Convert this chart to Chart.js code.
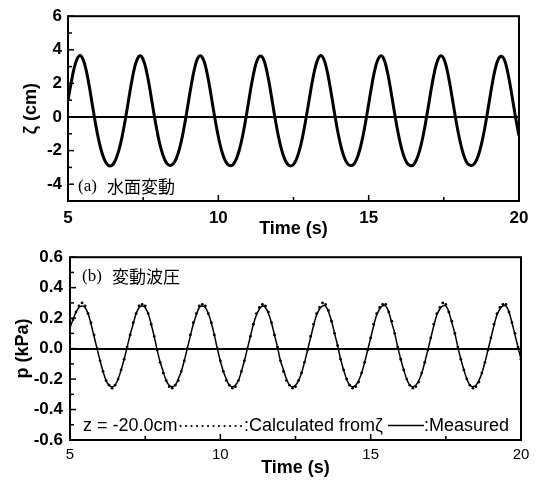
<!DOCTYPE html>
<html>
<head>
<meta charset="utf-8">
<script src="https://cdn.jsdelivr.net/npm/chart.js@4.4.1/dist/chart.umd.min.js"></script>
<style>
    body { margin: 0; background: #fff; }
    #wrap { position: relative; width: 540px; height: 481px; }
    #zetaCanvas { position: absolute; left: 0; top: 0; }
    #pCanvas { position: absolute; left: 0; top: 240px; }
</style>
</head>
<body>
<div id="wrap">
    <canvas id="zetaCanvas" width="540" height="240"></canvas>
    <canvas id="pCanvas" width="540" height="241"></canvas>
</div>
<script>
// 时间 (s)
const time = [
    5.0, 5.1, 5.2, 5.3, 5.4, 5.5, 5.6, 5.7, 5.8, 5.9,
    6.0, 6.1, 6.2, 6.3, 6.4, 6.5, 6.6, 6.7, 6.8, 6.9,
    7.0, 7.1, 7.2, 7.3, 7.4, 7.5, 7.6, 7.7, 7.8, 7.9,
    8.0, 8.1, 8.2, 8.3, 8.4, 8.5, 8.6, 8.7, 8.8, 8.9,
    9.0, 9.1, 9.2, 9.3, 9.4, 9.5, 9.6, 9.7, 9.8, 9.9,
    10.0, 10.1, 10.2, 10.3, 10.4, 10.5, 10.6, 10.7, 10.8, 10.9,
    11.0, 11.1, 11.2, 11.3, 11.4, 11.5, 11.6, 11.7, 11.8, 11.9,
    12.0, 12.1, 12.2, 12.3, 12.4, 12.5, 12.6, 12.7, 12.8, 12.9,
    13.0, 13.1, 13.2, 13.3, 13.4, 13.5, 13.6, 13.7, 13.8, 13.9,
    14.0, 14.1, 14.2, 14.3, 14.4, 14.5, 14.6, 14.7, 14.8, 14.9,
    15.0, 15.1, 15.2, 15.3, 15.4, 15.5, 15.6, 15.7, 15.8, 15.9,
    16.0, 16.1, 16.2, 16.3, 16.4, 16.5, 16.6, 16.7, 16.8, 16.9,
    17.0, 17.1, 17.2, 17.3, 17.4, 17.5, 17.6, 17.7, 17.8, 17.9,
    18.0, 18.1, 18.2, 18.3, 18.4, 18.5, 18.6, 18.7, 18.8, 18.9,
    19.0, 19.1, 19.2, 19.3, 19.4, 19.5, 19.6, 19.7, 19.8, 19.9,
    20.0
];

// (a) 水面変動 ζ (cm)
const zeta = [
    1.00, 1.98, 2.88, 3.44,
    3.66, 3.43, 2.82, 1.90, 0.84, -0.24, -1.19, -1.95, -2.49, -2.81, -2.92, -2.81, -2.47, -1.93, -1.17, -0.22, 0.85, 1.92, 2.83, 3.43,
    3.64, 3.42, 2.81, 1.91, 0.83, -0.23, -1.18, -1.93, -2.47, -2.79, -2.88, -2.79, -2.48, -1.94, -1.18, -0.23, 0.84, 1.91, 2.82, 3.44,
    3.65, 3.43, 2.82, 1.91, 0.84, -0.22, -1.17, -1.94, -2.48, -2.80, -2.90, -2.81, -2.49, -1.95, -1.19, -0.24, 0.83, 1.90, 2.81, 3.42,
    3.63, 3.44, 2.84, 1.93, 0.86, -0.21, -1.17, -1.93, -2.48, -2.80, -2.91, -2.82, -2.50, -1.96, -1.20, -0.25, 0.80, 1.86, 2.78, 3.40,
    3.66, 3.47, 2.88, 1.98, 0.92, -0.15, -1.12, -1.90, -2.46, -2.79, -2.89, -2.82, -2.51, -1.98, -1.23, -0.28, 0.78, 1.85, 2.77, 3.39,
    3.64, 3.47, 2.87, 1.97, 0.90, -0.17, -1.13, -1.91, -2.47, -2.80, -2.90, -2.82, -2.50, -1.97, -1.22, -0.27, 0.79, 1.86, 2.78, 3.40,
    3.65, 3.46, 2.87, 1.97, 0.91, -0.16, -1.12, -1.90, -2.47, -2.80, -2.88, -2.81, -2.51, -1.98, -1.22, -0.27, 0.80, 1.87, 2.79, 3.40,
    3.62, 3.46, 2.87, 1.96, 0.90, -0.17, -1.13
];

// (b) 変動波圧 p (kPa), Measured
const pMeasured = [
    0.14, 0.19, 0.24, 0.27,
    0.28, 0.27, 0.23, 0.16, 0.08, 0.00, -0.08, -0.15, -0.21, -0.24, -0.25, -0.24, -0.20, -0.14, -0.07, 0.01, 0.09, 0.16, 0.23, 0.27,
    0.28, 0.27, 0.23, 0.16, 0.08, -0.01, -0.09, -0.15, -0.21, -0.24, -0.25, -0.24, -0.20, -0.15, -0.08, 0.00, 0.08, 0.16, 0.22, 0.27,
    0.28, 0.27, 0.23, 0.17, 0.09, 0.00, -0.08, -0.15, -0.20, -0.24, -0.25, -0.24, -0.21, -0.15, -0.08, 0.00, 0.08, 0.16, 0.22, 0.26,
    0.28, 0.27, 0.23, 0.17, 0.09, 0.01, -0.08, -0.14, -0.20, -0.24, -0.25, -0.24, -0.21, -0.16, -0.09, -0.01, 0.07, 0.15, 0.22, 0.26,
    0.28, 0.28, 0.24, 0.18, 0.10, 0.02, -0.07, -0.14, -0.20, -0.24, -0.25, -0.24, -0.21, -0.16, -0.09, -0.01, 0.07, 0.15, 0.22, 0.26,
    0.28, 0.28, 0.24, 0.17, 0.10, 0.01, -0.07, -0.14, -0.20, -0.24, -0.25, -0.24, -0.21, -0.16, -0.09, -0.01, 0.07, 0.15, 0.22, 0.26,
    0.28, 0.28, 0.24, 0.17, 0.10, 0.01, -0.07, -0.14, -0.20, -0.24, -0.25, -0.24, -0.21, -0.16, -0.09, -0.01, 0.07, 0.15, 0.22, 0.26,
    0.28, 0.28, 0.24, 0.17, 0.09, 0.01, -0.07
];

// Calculated from ζ
const pCalculated = [
    0.15, 0.19, 0.24, 0.28,
    0.30, 0.28, 0.23, 0.17, 0.09, 0.00, -0.08, -0.15, -0.21, -0.24, -0.26, -0.24, -0.20, -0.14, -0.07, 0.01, 0.09, 0.17, 0.23, 0.28,
    0.29, 0.28, 0.23, 0.16, 0.08, -0.01, -0.09, -0.16, -0.21, -0.25, -0.26, -0.24, -0.21, -0.15, -0.08, 0.00, 0.09, 0.17, 0.23, 0.28,
    0.29, 0.28, 0.23, 0.17, 0.09, 0.00, -0.08, -0.15, -0.21, -0.24, -0.26, -0.25, -0.21, -0.15, -0.08, 0.00, 0.08, 0.16, 0.23, 0.27,
    0.29, 0.28, 0.24, 0.17, 0.09, 0.01, -0.08, -0.15, -0.21, -0.24, -0.26, -0.25, -0.21, -0.16, -0.09, -0.01, 0.08, 0.16, 0.23, 0.27,
    0.30, 0.29, 0.25, 0.18, 0.10, 0.02, -0.07, -0.14, -0.20, -0.24, -0.26, -0.25, -0.22, -0.16, -0.09, -0.01, 0.07, 0.16, 0.23, 0.27,
    0.29, 0.29, 0.24, 0.18, 0.10, 0.01, -0.07, -0.14, -0.20, -0.24, -0.26, -0.25, -0.22, -0.16, -0.09, -0.01, 0.07, 0.16, 0.23, 0.27,
    0.30, 0.29, 0.24, 0.18, 0.10, 0.01, -0.07, -0.14, -0.20, -0.24, -0.26, -0.25, -0.22, -0.16, -0.09, -0.01, 0.07, 0.16, 0.23, 0.27,
    0.29, 0.29, 0.24, 0.17, 0.10, 0.01, -0.07
];

const charts = {};
const SANS = '"Liberation Sans", Arial, sans-serif';
Chart.defaults.font.family = SANS;
Chart.defaults.color = '#000';
Chart.defaults.animation = false;

function toXY(ys) {
    return ys.map((v, i) => ({ x: time[i], y: v }));
}

// 内向刻度 + 外框
const frameTicks = {
    id: 'frameTicks',
    afterDatasetsDraw(chart) {
        const { ctx, chartArea: a, scales } = chart;
        ctx.save();
        ctx.strokeStyle = '#000';
        ctx.lineWidth = 1.5;
        scales.x.ticks.forEach(t => {
            const px = scales.x.getPixelForValue(t.value);
            const len = t.label !== '' ? 6 : 4;
            ctx.beginPath();
            ctx.moveTo(px, a.bottom);
            ctx.lineTo(px, a.bottom - len);
            ctx.stroke();
        });
        scales.y.ticks.forEach(t => {
            const py = scales.y.getPixelForValue(t.value);
            const len = t.label !== '' ? 6 : 4;
            ctx.beginPath();
            ctx.moveTo(a.left, py);
            ctx.lineTo(a.left + len, py);
            ctx.stroke();
        });
        ctx.lineWidth = 2;
        ctx.strokeRect(a.left, a.top, a.right - a.left, a.bottom - a.top);
        ctx.restore();
    }
};

const zeroGrid = {
    drawTicks: false,
    lineWidth: 2,
    color: c => (c.tick && Math.abs(c.tick.value) < 1e-9) ? '#000' : 'rgba(0,0,0,0)'
};

function updateZetaChart() {
    const ctx = document.getElementById('zetaCanvas').getContext('2d');

    const notes = {
        id: 'zetaNotes',
        afterDraw(chart) {
            const c = chart.ctx, a = chart.chartArea;
            c.save();
            c.fillStyle = '#000';
            c.textBaseline = 'middle';
            c.font = '17px "Liberation Serif", serif';
            c.fillText('(a)', a.left + 10, a.bottom - 14);
            c.font = '17px "Noto Sans CJK JP", sans-serif';
            c.fillText('水面変動', a.left + 39, a.bottom - 14);
            c.restore();
        }
    };

    charts.zetaChart = new Chart(ctx, {
        type: 'line',
        data: {
            datasets: [{
                label: 'ζ',
                data: toXY(zeta),
                borderColor: '#000',
                borderWidth: 3,
                pointRadius: 0,
                tension: 0.4
            }]
        },
        options: {
            responsive: false,
            devicePixelRatio: 1,
            layout: { padding: { left: 0, top: 15, right: 21, bottom: 0 } },
            plugins: { legend: { display: false }, tooltip: { enabled: false } },
            scales: {
                x: {
                    type: 'linear',
                    min: 5, max: 20,
                    grid: { display: false, drawTicks: false },
                    border: { display: false },
                    ticks: {
                        stepSize: 2.5,
                        autoSkip: false,
                        maxRotation: 0,
                        padding: 7,
                        font: { size: 17, weight: 'bold' },
                        callback: v => (v % 5 === 0 ? String(v) : '')
                    },
                    title: {
                        display: true,
                        text: 'Time (s)',
                        font: { size: 18, weight: 'bold' },
                        padding: { top: 0, bottom: 0 }
                    },
                    afterFit: s => { s.height = 39; }
                },
                y: {
                    min: -5, max: 6,
                    grid: zeroGrid,
                    border: { display: false },
                    ticks: {
                        stepSize: 1,
                        autoSkip: false,
                        padding: 6,
                        font: { size: 17, weight: 'bold' },
                        callback: v => (v % 2 === 0 ? String(v) : '')
                    },
                    title: {
                        display: true,
                        text: 'ζ (cm)',
                        font: { size: 18, weight: 'bold' },
                        padding: { top: 20, bottom: 0 }
                    },
                    afterFit: s => { s.width = 68; }
                }
            }
        },
        plugins: [frameTicks, notes]
    });
}

function updatePressureChart() {
    const ctx = document.getElementById('pCanvas').getContext('2d');

    const notes = {
        id: 'pNotes',
        afterDraw(chart) {
            const c = chart.ctx, a = chart.chartArea;
            c.save();
            c.fillStyle = '#000';
            c.strokeStyle = '#000';
            c.textBaseline = 'middle';
            c.font = '17px "Liberation Serif", serif';
            c.fillText('(b)', a.left + 12, a.top + 19);
            c.font = '17px "Noto Sans CJK JP", sans-serif';
            c.fillText('変動波圧', a.left + 42, a.top + 19);

            // 图例行
            const base = a.bottom - 9;
            c.textBaseline = 'alphabetic';
            c.font = '18px ' + SANS;
            const head = 'z = -20.0cm';
            c.fillText(head, a.left + 13, base);
            const dotStart = a.left + 13 + c.measureText(head).width + 3;
            for (let x = dotStart; x <= a.left + 172; x += 5.5) {
                c.beginPath();
                c.arc(x, base - 5, 1.1, 0, Math.PI * 2);
                c.fill();
            }
            c.fillText(':Calculated fromζ', a.left + 174, base);
            c.lineWidth = 1.5;
            c.beginPath();
            c.moveTo(a.left + 318, Math.round(base - 6) + 0.5);
            c.lineTo(a.left + 354, Math.round(base - 6) + 0.5);
            c.stroke();
            c.fillText(':Measured', a.left + 354, base);
            c.restore();
        }
    };

    charts.pChart = new Chart(ctx, {
        type: 'line',
        data: {
            datasets: [{
                label: 'Measured',
                data: toXY(pMeasured),
                borderColor: '#000',
                borderWidth: 1.5,
                pointRadius: 0,
                tension: 0.4
            }, {
                label: 'Calculated from ζ',
                data: toXY(pCalculated),
                showLine: false,
                pointRadius: 1.4,
                pointBorderWidth: 0,
                pointBackgroundColor: '#000'
            }]
        },
        options: {
            responsive: false,
            devicePixelRatio: 1,
            layout: { padding: { left: 0, top: 13, right: 19, bottom: 0 } },
            plugins: { legend: { display: false }, tooltip: { enabled: false } },
            scales: {
                x: {
                    type: 'linear',
                    min: 5, max: 20,
                    grid: { display: false, drawTicks: false },
                    border: { display: false },
                    ticks: {
                        stepSize: 2.5,
                        autoSkip: false,
                        maxRotation: 0,
                        padding: 6,
                        font: { size: 15 },
                        callback: v => (v % 5 === 0 ? String(v) : '')
                    },
                    title: {
                        display: true,
                        text: 'Time (s)',
                        font: { size: 18, weight: 'bold' },
                        padding: { top: 0, bottom: 2 }
                    },
                    afterFit: s => { s.height = 41; }
                },
                y: {
                    min: -0.6, max: 0.6,
                    grid: zeroGrid,
                    border: { display: false },
                    ticks: {
                        stepSize: 0.1,
                        autoSkip: false,
                        padding: 7,
                        font: { size: 17, weight: 'bold' },
                        callback: v => {
                            const r = Math.round(v * 10);
                            return r % 2 === 0 ? (r / 10).toFixed(1) : '';
                        }
                    },
                    title: {
                        display: true,
                        text: 'p (kPa)',
                        font: { size: 18, weight: 'bold' },
                        padding: { top: 12, bottom: 0 }
                    },
                    afterFit: s => { s.width = 70; }
                }
            }
        },
        plugins: [frameTicks, notes]
    });
}

updateZetaChart();
updatePressureChart();
</script>
</body>
</html>
